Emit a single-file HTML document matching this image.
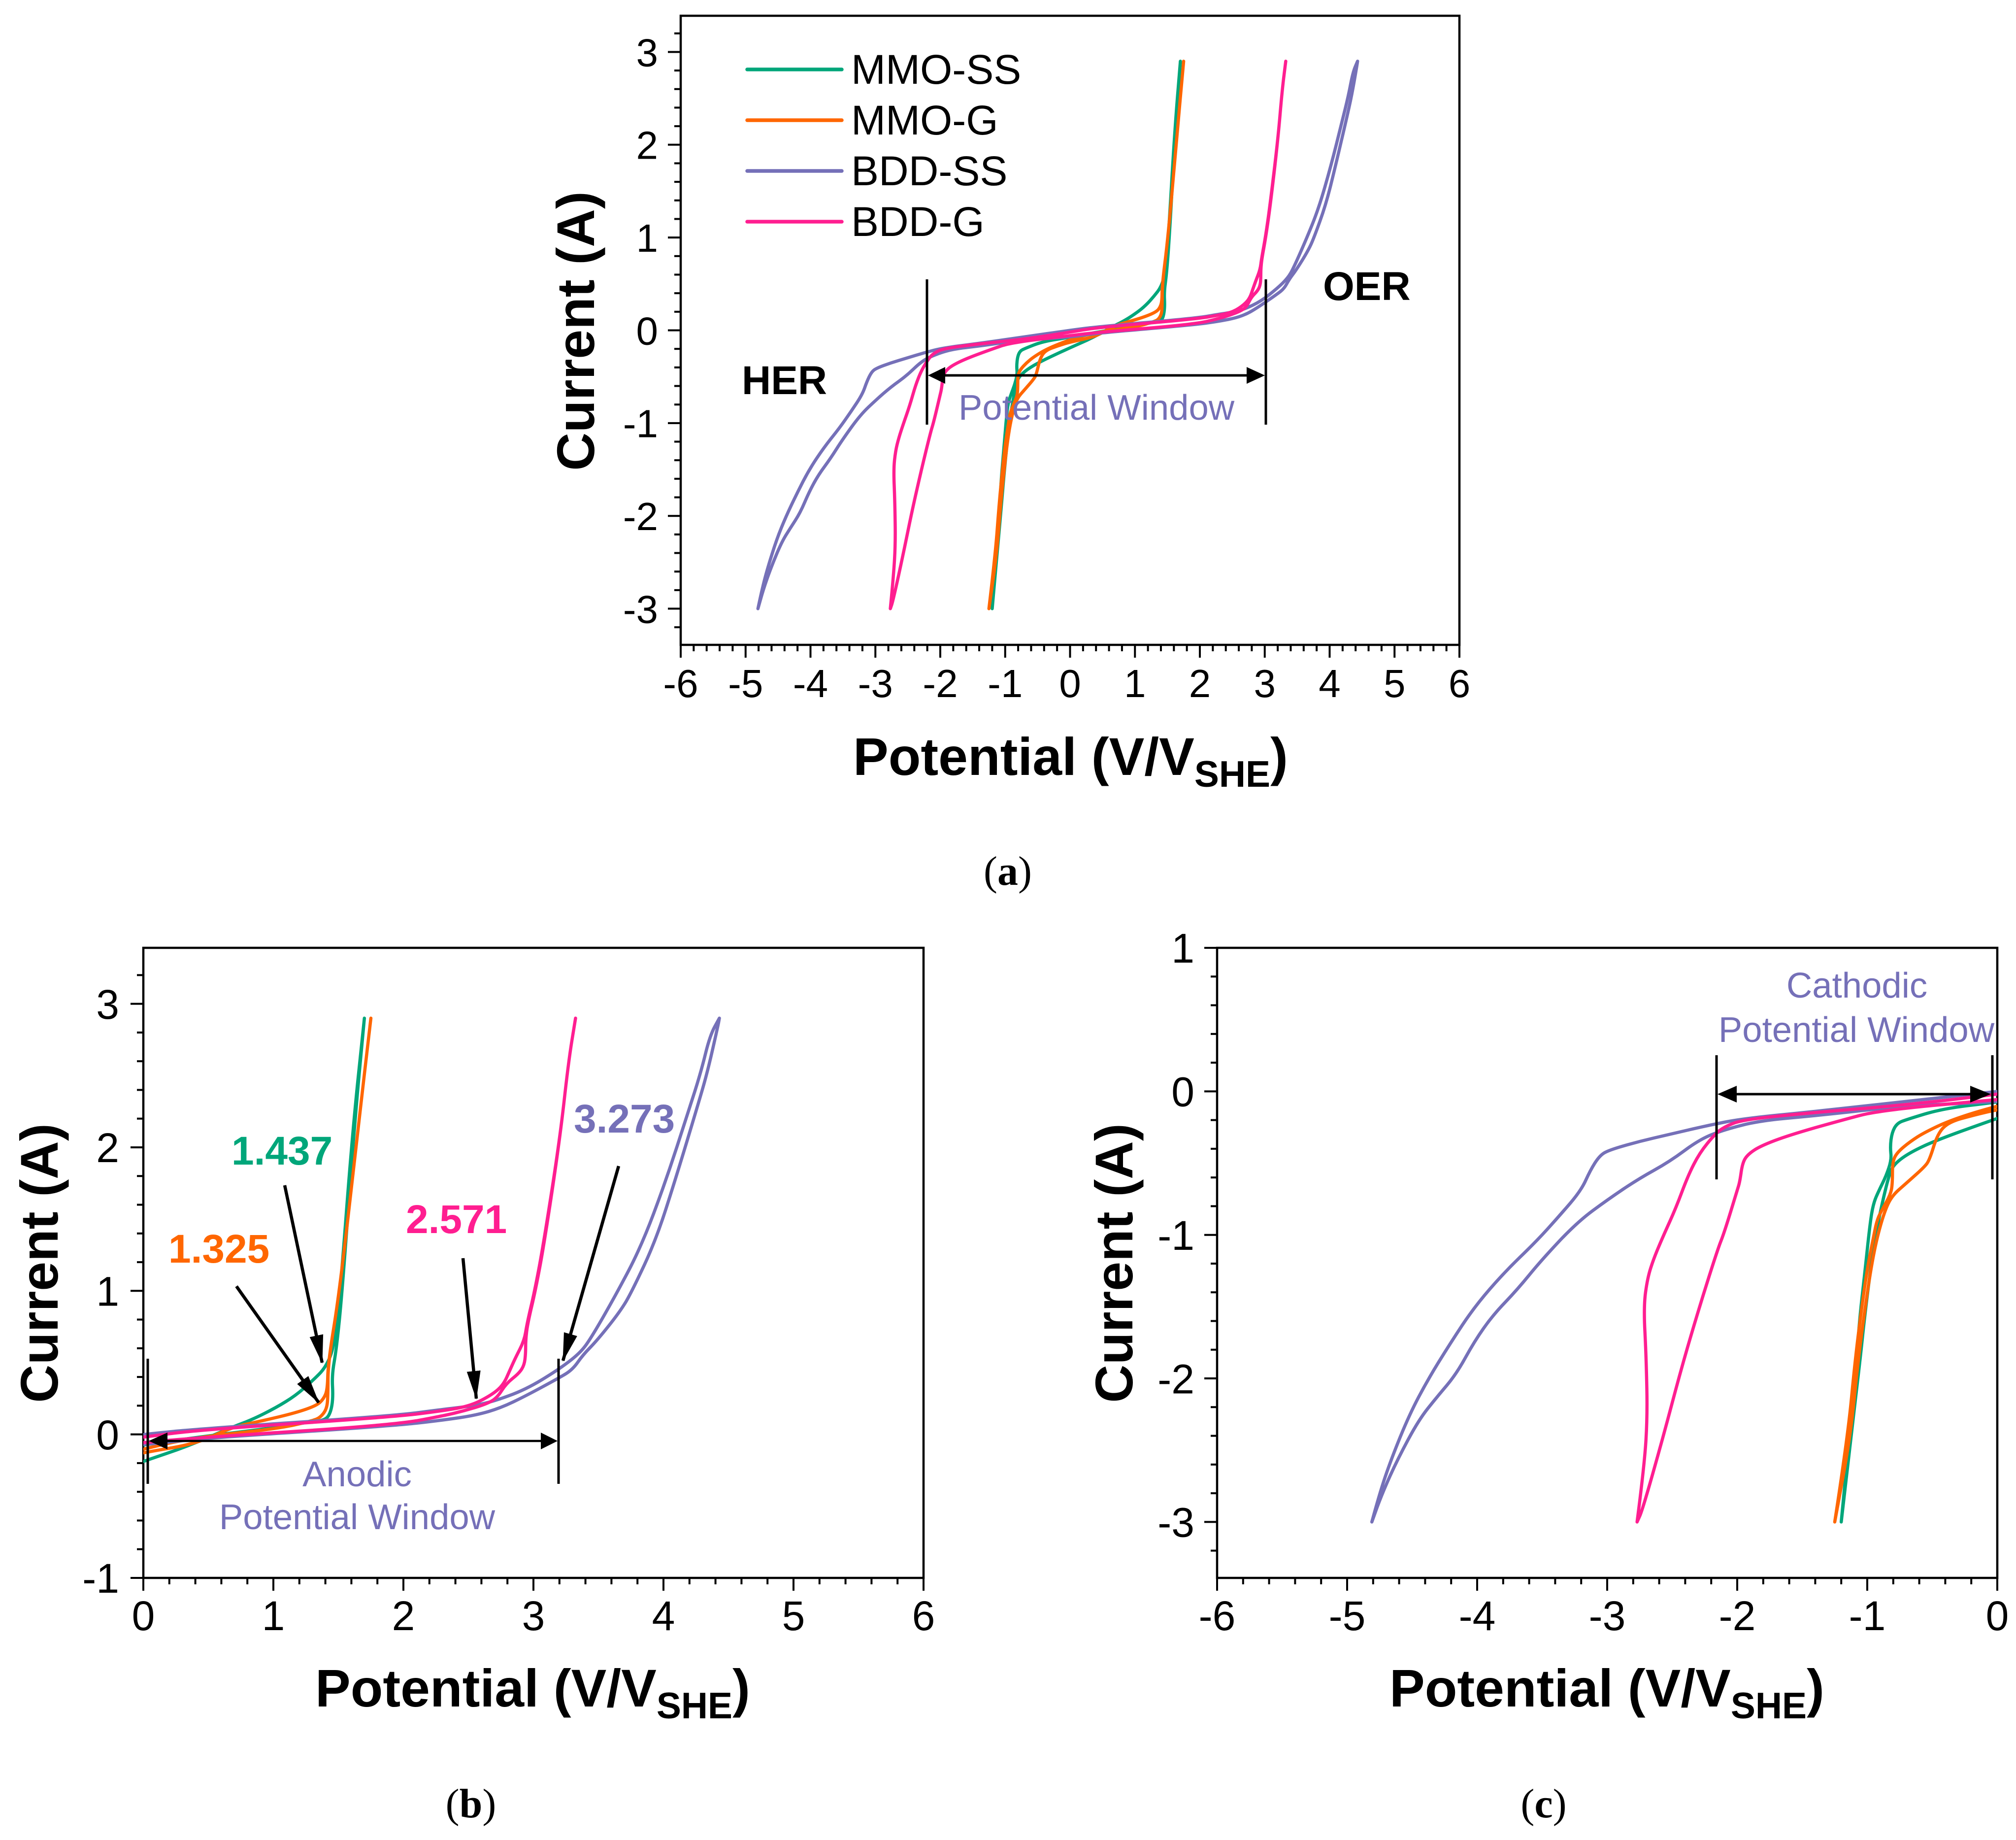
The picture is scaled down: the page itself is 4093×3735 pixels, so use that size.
<!DOCTYPE html>
<html lang="en">
<head>
<meta charset="utf-8">
<title>Potential window charts</title>
<style>
html,body{margin:0;padding:0;background:#fff;}
svg{display:block;}
text{font-family:"Liberation Sans",Arial,sans-serif;}
.title{font-weight:bold;font-size:107.5px;fill:#000;}
.sub{font-size:75px;}
.tick{font-size:82px;fill:#000;}
.note{font-size:72.5px;fill:#7570b8;}
.val{font-size:82px;font-weight:bold;}
.lab{font-size:82px;font-weight:bold;fill:#000;}
.leg{font-size:84px;fill:#000;}
.cap{font-family:"Liberation Serif",serif;font-size:84px;fill:#000;text-anchor:middle;}
.bar{stroke:#000;stroke-width:5;}
</style>
</head>
<body>
<svg id="figure" xmlns="http://www.w3.org/2000/svg" width="4093" height="3735" viewBox="0 0 4093 3735">
<defs>
<marker id="head" markerUnits="userSpaceOnUse" markerWidth="60" markerHeight="34" refX="56" refY="17" orient="auto"><path d="M0 3 L58 17 L0 31 Z" fill="#000"/></marker>
<clipPath id="clip-a"><rect x="1382" y="32" width="1581" height="1277"/></clipPath>
<clipPath id="clip-b"><rect x="291" y="1924" width="1584" height="1279"/></clipPath>
<clipPath id="clip-c"><rect x="2471" y="1924" width="1584" height="1279"/></clipPath>
</defs>
<rect width="4093" height="3735" fill="#fff"/>

<g id="panel-a">
<g id="axes-a"></g>
<g id="curves-a" clip-path="url(#clip-a)"></g>
<text class="title" transform="translate(1206,672) rotate(-90)" text-anchor="middle">Current (A)</text>
<text class="title" x="1732" y="1573">Potential (V/V<tspan class="sub" dy="24">SHE</tspan><tspan dy="-24">)</tspan></text>
<g>
<line x1="1517" y1="141" x2="1709" y2="141" stroke="#00a67a" stroke-width="7.5" stroke-linecap="round"/>
<text class="leg" x="1728" y="170">MMO-SS</text>
<line x1="1517" y1="244" x2="1709" y2="244" stroke="#ff6600" stroke-width="7.5" stroke-linecap="round"/>
<text class="leg" x="1728" y="273">MMO-G</text>
<line x1="1517" y1="347" x2="1709" y2="347" stroke="#7570b8" stroke-width="7.5" stroke-linecap="round"/>
<text class="leg" x="1728" y="376">BDD-SS</text>
<line x1="1517" y1="450" x2="1709" y2="450" stroke="#ff1e90" stroke-width="7.5" stroke-linecap="round"/>
<text class="leg" x="1728" y="479">BDD-G</text>
</g>
<text class="lab" x="1506" y="800">HER</text>
<text class="lab" x="2686" y="609">OER</text>
<line class="bar" x1="1882" y1="567" x2="1882" y2="862"/>
<line class="bar" x1="2570" y1="567" x2="2570" y2="862"/>
<line x1="1900" y1="762" x2="2552" y2="762" stroke="#000" stroke-width="5"/>
<polygon points="1884,762 1919,745 1919,779" fill="#000"/>
<polygon points="2568,762 2531,745 2531,779" fill="#000"/>
<text class="note" x="1946" y="852">Potential Window</text>
<text class="cap" x="2046" y="1796">(<tspan font-weight="bold">a</tspan>)</text>
</g>

<g id="panel-b">
<g id="axes-b"></g>
<g id="curves-b" clip-path="url(#clip-b)"></g>
<text class="title" transform="translate(117,2564) rotate(-90)" text-anchor="middle">Current (A)</text>
<text class="title" x="640" y="3464">Potential (V/V<tspan class="sub" dy="24">SHE</tspan><tspan dy="-24">)</tspan></text>
<text class="val" x="470" y="2364" fill="#00a67a">1.437</text>
<text class="val" x="342" y="2563" fill="#ff6600">1.325</text>
<text class="val" x="824" y="2503" fill="#ff1e90">2.571</text>
<text class="val" x="1165" y="2299" fill="#7570b8">3.273</text>
<line x1="578" y1="2406" x2="654" y2="2766" stroke="#000" stroke-width="6.5" marker-end="url(#head)"/>
<line x1="480" y1="2611" x2="647" y2="2847" stroke="#000" stroke-width="6.5" marker-end="url(#head)"/>
<line x1="940" y1="2554" x2="967" y2="2839" stroke="#000" stroke-width="6.5" marker-end="url(#head)"/>
<line x1="1256" y1="2367" x2="1143" y2="2762" stroke="#000" stroke-width="6.5" marker-end="url(#head)"/>
<line class="bar" x1="300" y1="2758" x2="300" y2="3012"/>
<line class="bar" x1="1134" y1="2758" x2="1134" y2="3012"/>
<line x1="320" y1="2925" x2="1115" y2="2925" stroke="#000" stroke-width="4.5"/>
<polygon points="302,2925 340,2908 340,2942" fill="#000"/>
<polygon points="1132,2925 1098,2908 1098,2942" fill="#000"/>
<text class="note" x="725" y="3017" text-anchor="middle">Anodic</text>
<text class="note" x="725" y="3104" text-anchor="middle">Potential Window</text>
<text class="cap" x="956" y="3689">(<tspan font-weight="bold">b</tspan>)</text>
</g>

<g id="panel-c">
<g id="axes-c"></g>
<g id="curves-c" clip-path="url(#clip-c)"></g>
<text class="title" transform="translate(2299,2564) rotate(-90)" text-anchor="middle">Current (A)</text>
<text class="title" x="2821" y="3464">Potential (V/V<tspan class="sub" dy="24">SHE</tspan><tspan dy="-24">)</tspan></text>
<line class="bar" x1="3485" y1="2142" x2="3485" y2="2394"/>
<line class="bar" x1="4045" y1="2142" x2="4045" y2="2394"/>
<line x1="3505" y1="2221" x2="4025" y2="2221" stroke="#000" stroke-width="5"/>
<polygon points="3487,2221 3526,2204 3526,2238" fill="#000"/>
<polygon points="4042,2221 4000,2204 4000,2238" fill="#000"/>
<text class="note" x="3770" y="2025" text-anchor="middle">Cathodic</text>
<text class="note" x="3769" y="2115" text-anchor="middle">Potential Window</text>
<text class="cap" x="3134" y="3689">(<tspan font-weight="bold">c</tspan>)</text>
</g>
</svg>

<script>
// Series values (potential in V vs SHE, current in A).
const mmoSSPotential = [-1.20,-1.14,-1.08,-1.06,-1.02,-0.98,-0.953,-0.91,-0.855,-0.813,-0.824,-0.81,-0.77,-0.70,-0.42,0,0.41,1.04,1.30,1.40,1.44,1.46,1.45,1.486,1.53,1.62,1.70,1.70,1.61,1.515,1.47,1.404,1.297,1.17,1.02,0.83,0.68,0.35,0,-0.46,-0.67,-0.785,-0.827,-0.883,-0.94,-0.98,-1.023,-1.055,-1.125,-1.20];
const mmoSSCurrent = [-3,-2.41,-1.87,-1.594,-1.276,-0.93,-0.78,-0.69,-0.59,-0.476,-0.387,-0.286,-0.222,-0.197,-0.12,-0.075,-0.02,0.05,0.09,0.10,0.15,0.255,0.415,0.60,1.0,2.12,2.9,2.9,2.12,1.0,0.62,0.467,0.37,0.27,0.186,0.10,0.05,-0.08,-0.188,-0.337,-0.425,-0.50,-0.565,-0.768,-1.02,-1.276,-1.594,-1.87,-2.41,-3];

const mmoGPotential = [-1.25,-1.15,-1.093,-1.037,-0.995,-0.953,-0.925,-0.883,-0.82,-0.806,-0.806,-0.77,-0.67,-0.56,-0.35,0,0.41,1.04,1.30,1.36,1.41,1.42,1.42,1.51,1.645,1.75,1.75,1.645,1.51,1.42,1.416,1.385,1.33,1.17,0.917,0.68,0.41,0,-0.18,-0.378,-0.46,-0.52,-0.56,-0.70,-0.813,-0.87,-0.925,-0.967,-1.01,-1.07,-1.13,-1.25];
const mmoGCurrent = [-3,-2.41,-1.87,-1.467,-1.21,-1.02,-0.895,-0.82,-0.717,-0.64,-0.49,-0.425,-0.35,-0.286,-0.197,-0.10,-0.02,0.04,0.095,0.117,0.175,0.267,0.495,1.0,2.08,2.9,2.9,2.08,1.0,0.495,0.31,0.245,0.20,0.15,0.095,0.05,-0.065,-0.127,-0.165,-0.216,-0.298,-0.476,-0.527,-0.64,-0.73,-0.845,-1.02,-1.21,-1.467,-1.87,-2.41,-3];

const bddSSPotential = [-4.81,-4.75,-4.66,-4.52,-4.38,-4.21,-4.02,-3.79,-3.55,-3.37,-3.20,-3.13,-3.06,-2.99,-2.76,-2.52,-2.24,-1.96,-1.4,-0.7,0,0.41,1.93,2.31,2.51,2.685,2.94,3.19,3.355,3.44,3.63,3.83,4.02,4.19,4.29,4.358,4.43,4.43,4.42,4.34,4.26,4.10,3.945,3.76,3.67,3.49,3.38,3.30,3.19,2.94,2.75,2.56,2.31,1.93,0.41,0,-0.7,-1.4,-1.82,-2.1,-2.29,-2.52,-2.76,-2.99,-3.23,-3.51,-3.69,-3.88,-4.02,-4.16,-4.31,-4.45,-4.61,-4.73,-4.81];
const bddSSCurrent = [-3,-2.8,-2.56,-2.25,-2.01,-1.76,-1.5,-1.26,-1.05,-0.87,-0.69,-0.55,-0.45,-0.41,-0.35,-0.30,-0.24,-0.19,-0.14,-0.07,0,0.037,0.13,0.175,0.196,0.227,0.312,0.45,0.563,0.666,0.965,1.31,1.77,2.245,2.53,2.78,2.9,2.9,2.85,2.53,2.28,1.80,1.36,1.0,0.86,0.655,0.553,0.45,0.39,0.268,0.185,0.134,0.10,0.06,-0.03,-0.075,-0.10,-0.17,-0.203,-0.267,-0.335,-0.49,-0.61,-0.75,-0.91,-1.18,-1.38,-1.56,-1.74,-1.97,-2.13,-2.29,-2.56,-2.8,-3];

const bddGPotential = [-2.77,-2.72,-2.69,-2.70,-2.72,-2.69,-2.64,-2.57,-2.47,-2.38,-2.29,-2.17,-2.1,-1.96,-1.40,-0.70,0,0.41,1.93,2.31,2.52,2.685,2.77,2.82,2.86,2.93,2.95,3.01,3.08,3.205,3.27,3.324,3.324,3.27,3.205,3.085,3.015,2.955,2.94,2.94,2.93,2.89,2.79,2.72,2.635,2.47,2.31,1.93,0.41,0,-0.91,-1.205,-1.6,-1.82,-1.92,-1.96,-1.98,-2.0,-2.10,-2.15,-2.29,-2.43,-2.57,-2.73,-2.77];
const bddGCurrent = [-3,-2.65,-2.29,-1.85,-1.5,-1.3,-1.16,-1.01,-0.81,-0.59,-0.43,-0.296,-0.248,-0.197,-0.146,-0.095,-0.02,0.03,0.122,0.165,0.2,0.278,0.347,0.45,0.53,0.655,0.77,1.0,1.34,2.07,2.6,2.9,2.9,2.6,2.07,1.34,1.0,0.77,0.655,0.563,0.484,0.426,0.354,0.254,0.21,0.165,0.13,0.066,-0.024,-0.057,-0.133,-0.203,-0.305,-0.38,-0.44,-0.50,-0.63,-0.69,-0.985,-1.1,-1.5,-1.93,-2.41,-2.92,-3];

// Categories and tick labels.
const seriesNames = ["mmo-ss","mmo-g","bdd-ss","bdd-g"];
const seriesColors = ["#00a67a","#ff6600","#7570b8","#ff1e90"];
const seriesPotential = [mmoSSPotential,mmoGPotential,bddSSPotential,bddGPotential];
const seriesCurrent = [mmoSSCurrent,mmoGCurrent,bddSSCurrent,bddGCurrent];
const xTicksA = [-6,-5,-4,-3,-2,-1,0,1,2,3,4,5,6];
const yTicksA = [-3,-2,-1,0,1,2,3];
const xTicksB = [0,1,2,3,4,5,6];
const yTicksB = [-1,0,1,2,3];
const xTicksC = [-6,-5,-4,-3,-2,-1,0];
const yTicksC = [-3,-2,-1,0,1];

const panels = [
  {id:"a",left:1382,right:2963,top:32,bottom:1309,xMin:-6,xMax:6,yMin:-3.39,yMax:3.39,xTicks:xTicksA,yTicks:yTicksA,xBase:1415,yRight:1336,fs:80},
  {id:"b",left:291,right:1875,top:1924,bottom:3203,xMin:0,xMax:6,yMin:-1,yMax:3.39,xTicks:xTicksB,yTicks:yTicksB,xBase:3309,yRight:242,fs:84},
  {id:"c",left:2471,right:4055,top:1924,bottom:3203,xMin:-6,xMax:0,yMin:-3.39,yMax:1,xTicks:xTicksC,yTicks:yTicksC,xBase:3309,yRight:2425,fs:84}
];

const NS = "http://www.w3.org/2000/svg";
function make(tag, attrs, parent){
  const el = document.createElementNS(NS, tag);
  for (const k in attrs) el.setAttribute(k, attrs[k]);
  parent.appendChild(el);
  return el;
}
function smoothPath(pts){
  let d = "M" + pts[0][0].toFixed(1) + " " + pts[0][1].toFixed(1);
  for (let i = 1; i < pts.length - 1; i++){
    const mx = (pts[i][0] + pts[i+1][0]) / 2;
    const my = (pts[i][1] + pts[i+1][1]) / 2;
    d += "Q" + pts[i][0].toFixed(1) + " " + pts[i][1].toFixed(1) + " " + mx.toFixed(1) + " " + my.toFixed(1);
  }
  const last = pts[pts.length-1];
  d += "L" + last[0].toFixed(1) + " " + last[1].toFixed(1);
  return d;
}

panels.forEach(function(p){
  const sx = function(v){ return p.left + (v - p.xMin) / (p.xMax - p.xMin) * (p.right - p.left); };
  const sy = function(v){ return p.bottom - (v - p.yMin) / (p.yMax - p.yMin) * (p.bottom - p.top); };
  const axes = document.getElementById("axes-" + p.id);
  const curves = document.getElementById("curves-" + p.id);

  const frame = make("rect",{x:p.left,y:p.top,width:p.right-p.left,height:p.bottom-p.top,fill:"none",stroke:"#000","stroke-width":4.5},axes);
  
  

  for (let k = Math.ceil(p.xMin*5); k <= Math.floor(p.xMax*5); k++){
    const major = k % 5 === 0;
    const t = make("line",{x1:sx(k/5),x2:sx(k/5),y1:p.bottom,y2:p.bottom+(major?26:13),stroke:"#000","stroke-width":4},axes);
    
    
  }
  for (let k = Math.ceil(p.yMin*5); k <= Math.floor(p.yMax*5); k++){
    const major = k % 5 === 0;
    const t = make("line",{x1:p.left-(major?26:13),x2:p.left,y1:sy(k/5),y2:sy(k/5),stroke:"#000","stroke-width":4},axes);
    
    
  }
  p.xTicks.forEach(function(v){
    const t = make("text",{x:sx(v),y:p.xBase,"text-anchor":"middle",class:"tick",style:"font-size:"+p.fs+"px"},axes);
    t.textContent = String(v);
    
    
  });
  p.yTicks.forEach(function(v){
    const t = make("text",{x:p.yRight,y:sy(v)+p.fs*0.36,"text-anchor":"end",class:"tick",style:"font-size:"+p.fs+"px"},axes);
    t.textContent = String(v);
    
    
  });

  seriesNames.forEach(function(name, s){
    const pts = seriesPotential[s].map(function(v, i){ return [sx(v), sy(seriesCurrent[s][i])]; });
    const path = make("path",{d:smoothPath(pts),fill:"none",stroke:seriesColors[s],"stroke-width":6.5,"stroke-linejoin":"round","stroke-linecap":"round"},curves);
    
    
  });
});
</script>
</body>
</html>
